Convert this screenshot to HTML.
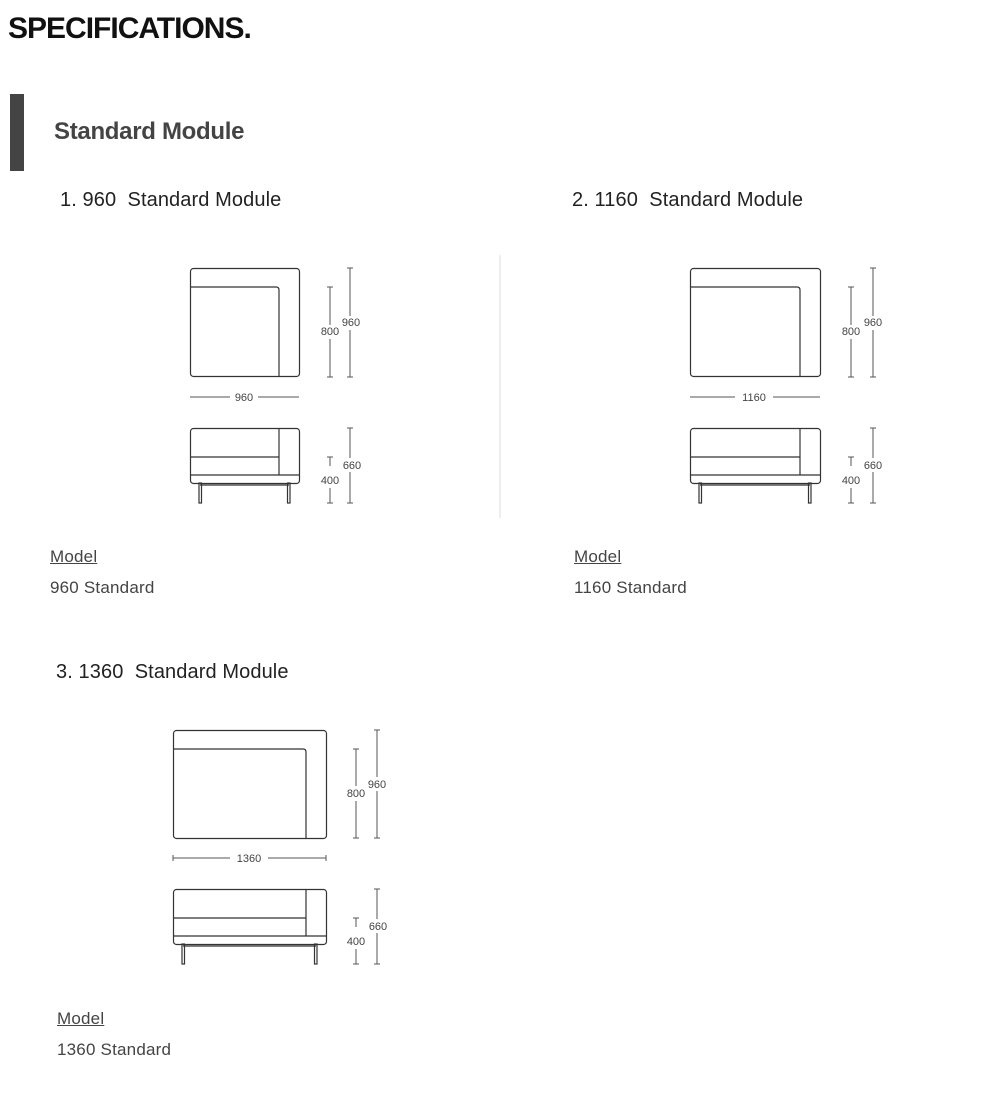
<!DOCTYPE html>
<html><head><meta charset="utf-8"><style>
body{margin:0;width:1000px;height:1100px;background:#fff;position:relative;font-family:"Liberation Sans","Noto Sans CJK KR",sans-serif;overflow:hidden}
.t{position:absolute;white-space:pre;line-height:1}
.h1{left:8px;top:14px;font-size:30px;font-weight:bold;color:#111;letter-spacing:-1px}
.h2{left:54px;top:120px;font-size:24px;color:#444;letter-spacing:-0.3px;font-weight:bold}
.h3{font-size:20px;color:#222;letter-spacing:0.1px}
.m{font-size:17px;color:#444;letter-spacing:0.2px}
.u{text-decoration:underline}
</style></head><body>
<div class="t h1">SPECIFICATIONS.</div>
<div style="position:absolute;left:10px;top:94px;width:14px;height:77px;background:#444"></div>
<div class="t h2">Standard Module</div>
<div class="t h3" style="left:60px;top:190px">1. 960  Standard Module</div>
<div class="t h3" style="left:572px;top:190px">2. 1160  Standard Module</div>
<div class="t h3" style="left:56px;top:662px">3. 1360  Standard Module</div>
<div class="t m u" style="left:50px;top:548px">Model</div>
<div class="t m" style="left:50px;top:579px">960 Standard</div>
<div class="t m u" style="left:574px;top:548px">Model</div>
<div class="t m" style="left:574px;top:579px">1160 Standard</div>
<div class="t m u" style="left:57px;top:1010px">Model</div>
<div class="t m" style="left:57px;top:1041px">1360 Standard</div>

<svg width="1000" height="1100" style="position:absolute;left:0;top:0" font-family="Liberation Sans, sans-serif" font-size="11" fill="#444">
<line x1="500" y1="255" x2="500" y2="518" stroke="#ddd"/>
<g stroke="#333" stroke-width="1.2" fill="none">
 <g transform="translate(190,268)">
  <rect x="0.5" y="0.5" width="109" height="108" rx="3"/>
  <path d="M1 19 H86 Q89 19 89 22 V108"/>
 </g>
 <g transform="translate(190,428)">
  <rect x="0.5" y="0.5" width="109" height="55" rx="3"/>
  <line x1="89" y1="0" x2="89" y2="47"/><line x1="0" y1="29" x2="89" y2="29"/><line x1="0" y1="47" x2="109" y2="47"/>
  <rect x="9" y="55" width="2.5" height="20"/><rect x="97.5" y="55" width="2.5" height="20"/>
  <line x1="10" y1="57" x2="99" y2="57"/>
 </g>
 <g transform="translate(690,268)">
  <rect x="0.5" y="0.5" width="130" height="108" rx="3"/>
  <path d="M1 19 H107 Q110 19 110 22 V108"/>
 </g>
 <g transform="translate(690,428)">
  <rect x="0.5" y="0.5" width="130" height="55" rx="3"/>
  <line x1="110" y1="0" x2="110" y2="47"/><line x1="0" y1="29" x2="110" y2="29"/><line x1="0" y1="47" x2="130" y2="47"/>
  <rect x="9" y="55" width="2.5" height="20"/><rect x="118.5" y="55" width="2.5" height="20"/>
  <line x1="10" y1="57" x2="120" y2="57"/>
 </g>
 <g transform="translate(173,730)">
  <rect x="0.5" y="0.5" width="153" height="108" rx="3"/>
  <path d="M1 19 H130 Q133 19 133 22 V108"/>
 </g>
 <g transform="translate(173,889)">
  <rect x="0.5" y="0.5" width="153" height="55" rx="3"/>
  <line x1="133" y1="0" x2="133" y2="47"/><line x1="0" y1="29" x2="133" y2="29"/><line x1="0" y1="47" x2="153" y2="47"/>
  <rect x="9" y="55" width="2.5" height="20"/><rect x="141.5" y="55" width="2.5" height="20"/>
  <line x1="10" y1="57" x2="143" y2="57"/>
 </g>
</g>
<g stroke="#555" stroke-width="1" fill="none">
 <path d="M330 287V325M330 339V377M327 287H333M327 377H333"/>
 <path d="M350 268V316M350 330V377M347 268H353M347 377H353"/>
 <path d="M190 397H230M258 397H299"/>
 <path d="M350 428V458M350 472V503M347 428H353M347 503H353"/>
 <path d="M330 457V466M330 488V503M327 457H333M327 503H333"/>
 <path d="M851 287V325M851 339V377M848 287H854M848 377H854"/>
 <path d="M873 268V316M873 330V377M870 268H876M870 377H876"/>
 <path d="M690 397H735M773 397H820"/>
 <path d="M873 428V458M873 472V503M870 428H876M870 503H876"/>
 <path d="M851 457V466M851 488V503M848 457H854M848 503H854"/>
 <path d="M356 749V786M356 801V838M353 749H359M353 838H359"/>
 <path d="M377 730V777M377 791V838M374 730H380M374 838H380"/>
 <path d="M173 858H230M268 858H326M173 855V861M326 855V861"/>
 <path d="M377 889V919M377 933V964M374 889H380M374 964H380"/>
 <path d="M356 918V927M356 949V964M353 918H359M353 964H359"/>
</g>
<g text-anchor="middle">
 <text x="330" y="335">800</text><text x="351" y="326">960</text><text x="244" y="401">960</text>
 <text x="352" y="469">660</text><text x="330" y="484">400</text>
 <text x="851" y="335">800</text><text x="873" y="326">960</text><text x="754" y="401">1160</text>
 <text x="873" y="469">660</text><text x="851" y="484">400</text>
 <text x="356" y="797">800</text><text x="377" y="788">960</text><text x="249" y="862">1360</text>
 <text x="378" y="930">660</text><text x="356" y="945">400</text>
</g>
</svg>
</body></html>
